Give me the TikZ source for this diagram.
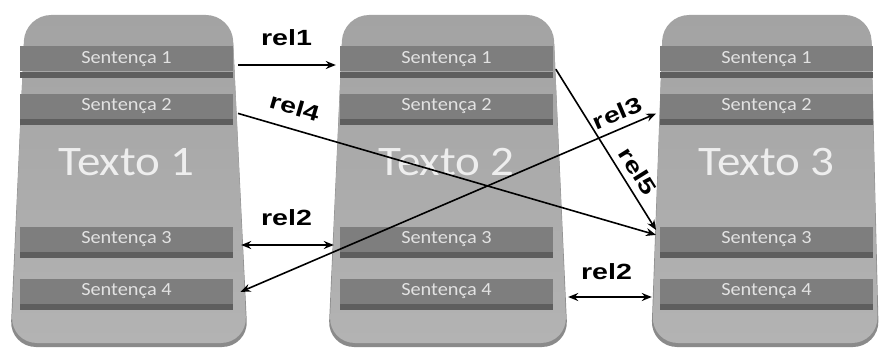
\documentclass[tikz,border=0pt]{standalone}
\usepackage{fontspec}
\usepackage{tikz}
\usetikzlibrary{shapes,arrows.meta,positioning}
\usetikzlibrary{calc}
\newfontfamily\calfont{Carlito}
\newfontfamily\arialfont{Liberation Sans}
\definecolor{paneltop}{HTML}{A3A3A3}
\definecolor{panelbot}{HTML}{B3B3B3}
\definecolor{rimgray}{HTML}{8A8A8A}
\definecolor{bargray}{HTML}{7E7E7E}
\definecolor{lipgray}{HTML}{5E5E5E}
\definecolor{bartext}{HTML}{E2E2E2}
\definecolor{bigtext}{HTML}{EEEEEE}
\newcommand{\stretchx}[2][1.1]{\scalebox{#1}[1]{#2}}

\begin{document}
\begin{tikzpicture}
  [
    x=1pt, y=1pt,
    Panel/.style={rounded corners=26pt, top color=paneltop, bottom color=panelbot},
    Rim/.style={rounded corners=26pt, fill=rimgray},
    Bar/.style={rectangle, fill=bargray, minimum width=213pt, minimum height=25pt, inner sep=0pt, text=bartext, font=\calfont\fontsize{18.5}{18.5}\selectfont},
    Lip/.style={fill=lipgray},
    Big/.style={text=bigtext, font=\calfont\fontsize{42}{42}\selectfont},
    Rel/.style={line width=1.6pt, shorten <=5pt, shorten >=4pt},
    Lbl/.style={inner sep=1pt, font=\arialfont\bfseries\fontsize{22}{22}\selectfont}
  ]
  \useasboundingbox (0,0) rectangle (879,349);

  % Panels
  \foreach \xa/\xb/\xc/\xd in {25/232/11/247, 343/553/329/567, 663/871/652/878} {
    \fill[Rim] (\xa,330) -- (\xb,330) -- ({\xd+1},2) -- ({\xc-1},2) -- cycle;
    \shade[Panel] (\xa,334) -- (\xb,334) -- (\xd,6) -- (\xc,6) -- cycle;
  }

  % Sentences
  \foreach \i/\cx in {1/126.5, 2/446.5, 3/766.5} {
    \node[Big] (texto\i) at (\cx,187) {\stretchx[1.12]{Texto \i}};
    \foreach \j/\cy in {1/290, 2/243, 3/110, 4/58} {
      \node[Bar] (t\i s\j) at (\cx,\cy) {\stretchx{Sentença \j}};
      \fill[Lip] (t\i s\j.south west) rectangle ++(213,-6);
    }
  }

  % Relations
  \draw[Rel, -{Stealth[length=10pt,width=8pt]}] ([yshift=-6pt]t1s1.east) -- ([yshift=-6pt]t2s1.west)
    node[midway, above=17pt, Lbl] {\stretchx[1.3]{rel1}};
  \draw[Rel, -{Stealth[length=10pt,width=8pt]}] ([yshift=-6pt]t1s2.east) -- ([yshift=3pt]t3s3.west)
    node[pos=0.13, sloped, above=12pt, Lbl] {\stretchx[1.3]{rel4}};
  \draw[Rel, {Stealth[length=10pt,width=8pt]}-{Stealth[length=10pt,width=8pt]}, shorten <=8pt, shorten >=6pt] ([yshift=-6pt]t1s3.east) -- ([yshift=-6pt]t2s3.west)
    node[midway, above=17pt, Lbl] {\stretchx[1.3]{rel2}};
  \draw[Rel, {Stealth[length=10pt,width=8pt]}-{Stealth[length=10pt,width=8pt]}, shorten <=8pt] ([yshift=-4pt]t1s4.east) -- ([yshift=-6pt]t3s2.west)
    node[pos=0.915, sloped, above=6pt, Lbl] {\stretchx[1.3]{rel3}};
  \draw[Rel, -{Stealth[length=10pt,width=8pt]}, shorten >=7pt] ([yshift=-6pt]t2s1.east) -- ([yshift=3pt]t3s3.west)
    node[pos=0.67, sloped, above=6pt, Lbl] {\stretchx[1.3]{rel5}};
  \draw[Rel, {Stealth[length=10pt,width=8pt]}-{Stealth[length=10pt,width=8pt]}, shorten <=15pt, shorten >=8pt] ([yshift=-6pt]t2s4.east) -- ([yshift=-6pt]t3s4.west)
    node[midway, above=15pt, Lbl] {\stretchx[1.3]{rel2}};

\end{tikzpicture}
\end{document}
